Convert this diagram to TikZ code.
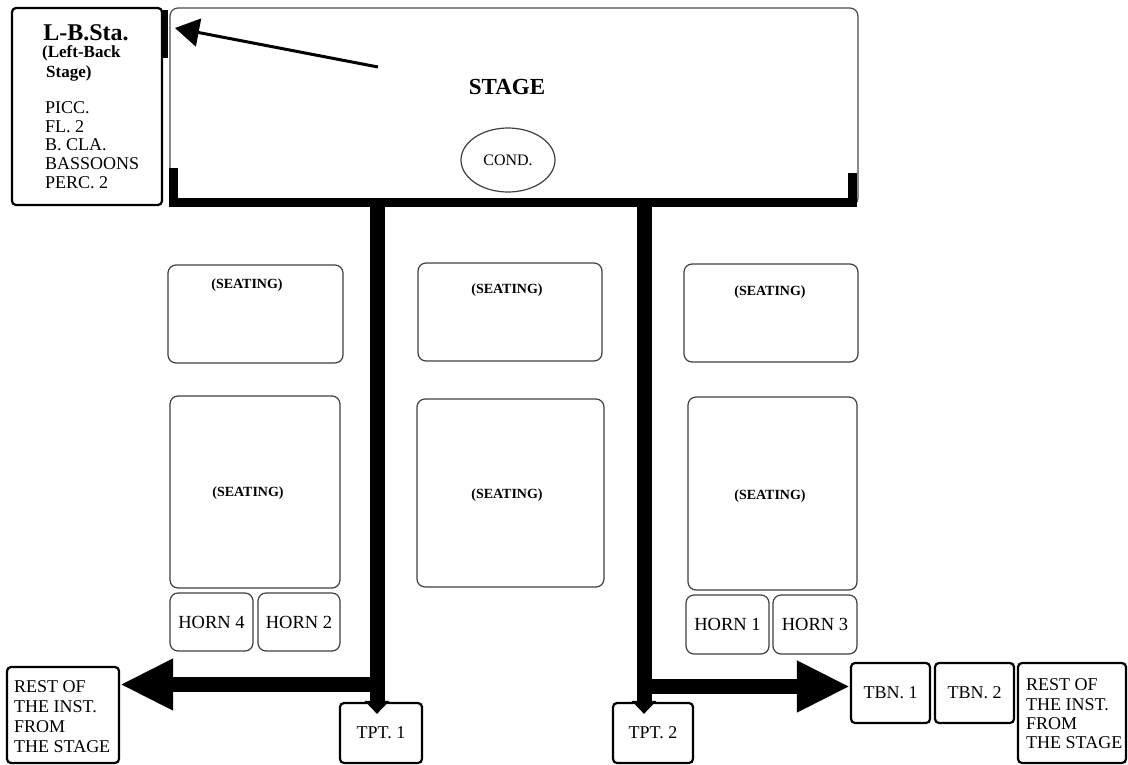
\documentclass[tikz,border=0pt]{standalone}
\usepackage{fontspec}
\setmainfont{Liberation Serif}
\usetikzlibrary{arrows.meta,calc,shapes.geometric}
\begin{document}
\begin{tikzpicture}[x=1pt,y=-1pt,
  thickbox/.style={draw=black, line width=2.2pt, rounded corners=4pt, inner sep=0pt, font=\fontsize{18}{20}\selectfont},
  seatbox/.style={draw=black!75, line width=1.2pt, rounded corners=8pt, inner sep=0pt},
  hornbox/.style={draw=black!75, line width=1.2pt, rounded corners=8pt, inner sep=0pt, font=\fontsize{18.5}{20}\selectfont},
  seattext/.style={font=\bfseries\fontsize{14}{16}\selectfont, inner sep=0pt},
  listtext/.style={align=left, anchor=west, inner sep=0pt},
  bar/.style={line width=15pt, draw=black},
  bighead/.style={-{Triangle[length=53pt,width=48pt]}},
  smallhead/.style={-{Triangle[length=13pt,width=24pt]}}
]
\useasboundingbox[fill=white] (0,0) rectangle (1128,764);

% stage and left-back stage
\node[seatbox, draw=black!70, minimum width=688, minimum height=198] (stage) at (514,107) {};
\node[thickbox, minimum width=150, minimum height=197] (lb) at (87,106.5) {};
\node[font=\bfseries\fontsize{24}{26}\selectfont, inner sep=0pt] (lbt) at (86,33) {L-B.Sta.};
\node[listtext, font=\bfseries\fontsize{17}{20}\selectfont] (lbsub) at (42,63) {(Left-Back\\\hspace*{4pt}Stage)};
\node[listtext, font=\fontsize{18}{18.6}\selectfont] (lblist) at (45,145) {PICC.\\FL. 2\\B. CLA.\\BASSOONS\\PERC. 2};

\node[font=\bfseries\fontsize{23}{25}\selectfont, inner sep=0pt] (stagelbl) at (507,87) {STAGE};
\node[ellipse, draw=black!75, line width=1.2pt, minimum width=94, minimum height=64, inner sep=0pt, font=\fontsize{16}{18}\selectfont] (cond) at (508,160) {COND.};

% thick stage edge
\draw[line width=9pt] (173,168) -- (173,202) -- (852.5,202) -- (852.5,173);
\draw[line width=7pt] (164.5,10) -- (164.5,58);

% arrow to L-B stage
\coordinate (as) at (378,67);
\coordinate (at) at (175,28);
\draw[line width=3pt, -{Triangle[length=24pt,width=28pt]}] (as) -- (at);

% seating
\node[seatbox, minimum width=175, minimum height=98] (s1) at (255.5,314) {};
\node[seattext] at (247,285) {(SEATING)};
\node[seatbox, minimum width=170, minimum height=192] (s2) at (255,492) {};
\node[seattext] at (248,493) {(SEATING)};
\node[seatbox, minimum width=184, minimum height=98] (s3) at (510,312) {};
\node[seattext] at (507,290) {(SEATING)};
\node[seatbox, minimum width=187, minimum height=188] (s4) at (510.5,493) {};
\node[seattext] at (507,495) {(SEATING)};
\node[seatbox, minimum width=174, minimum height=98] (s5) at (771,313) {};
\node[seattext] at (770,292) {(SEATING)};
\node[seatbox, minimum width=169, minimum height=193] (s6) at (772.5,493.5) {};
\node[seattext] at (770,496) {(SEATING)};

% horns
\node[hornbox, minimum width=83, minimum height=58] (h4) at (211.5,622) {HORN 4};
\node[hornbox, minimum width=82, minimum height=58] (h2) at (299,622) {HORN 2};
\node[hornbox, minimum width=83, minimum height=59] (h1) at (727.5,624.5) {HORN 1};
\node[hornbox, minimum width=84, minimum height=59] (h3) at (815,624.5) {HORN 3};

% brass and rest
\node[thickbox, minimum width=82, minimum height=60] (tpt1) at (381,733) {TPT. 1};
\node[thickbox, minimum width=80, minimum height=60] (tpt2) at (653,733) {TPT. 2};
\node[thickbox, minimum width=79, minimum height=60] (tbn1) at (890.5,693) {TBN. 1};
\node[thickbox, minimum width=79, minimum height=60] (tbn2) at (974.5,693) {TBN. 2};
\node[thickbox, minimum width=112, minimum height=96] (restL) at (63,715) {};
\node[listtext, font=\fontsize{18}{20}\selectfont] at (14,717) {REST OF\\THE INST.\\FROM\\THE STAGE};
\node[thickbox, minimum width=108, minimum height=100] (restR) at (1072,713) {};
\node[listtext, font=\fontsize{18}{19.3}\selectfont] at (1026,714) {REST OF\\THE INST.\\FROM\\THE STAGE};

% bars
\coordinate (bl) at (377,200);
\coordinate (br) at (644,200);
\draw[bar, smallhead] (bl) -- ($(bl |- tpt1.north)+(0,12)$);
\draw[bar, smallhead] (br) -- ($(br |- tpt2.north)+(0,12)$);
\coordinate (la) at (377,684.5);
\coordinate (ra) at (644,686.5);
\draw[bar, bighead] (la) -- (restL.east |- la);
\draw[bar, bighead] (ra) -- (tbn1.west |- ra);
\end{tikzpicture}
\end{document}
